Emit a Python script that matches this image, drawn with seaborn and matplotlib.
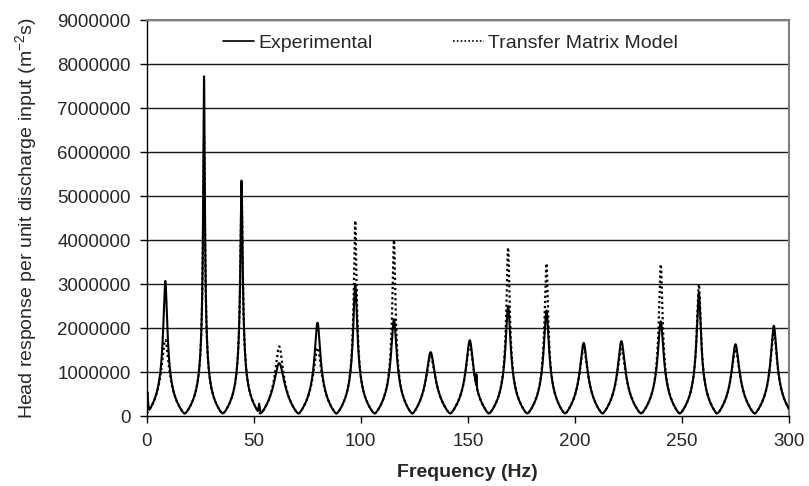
import numpy as np
import pandas as pd
import matplotlib
matplotlib.use("Agg")
import matplotlib.pyplot as plt
import seaborn as sns

# ---- data ----
peak_freq = [8.7, 26.8, 44.3, 61.9, 79.8, 97.4, 115.5, 132.6, 150.9, 168.8,
             186.7, 204.1, 221.7, 240.1, 257.9, 275.0, 292.9]
exp_peak = [3.07e6, 7.72e6, 5.35e6, 1.20e6, 2.12e6, 3.00e6, 2.20e6, 1.45e6,
            1.72e6, 2.50e6, 2.40e6, 1.66e6, 1.70e6, 2.15e6, 2.80e6, 1.63e6, 2.05e6]
model_peak = [1.73e6, 6.35e6, 5.30e6, 1.58e6, 1.55e6, 4.44e6, 4.00e6, 1.35e6,
              1.62e6, 3.83e6, 3.47e6, 1.55e6, 1.52e6, 3.45e6, 3.00e6, 1.52e6, 1.92e6]
exp_spike_freq = [0.3, 52.5, 154.0]
exp_spike_amp = [0.55e6, 0.28e6, 0.95e6]
tail_level = 0.45e6          # response level half-way between resonance and trough
floor_level = 0.06e6         # residual response at the troughs
yticks = [0, 1000000, 2000000, 3000000, 4000000, 5000000, 6000000, 7000000, 8000000, 9000000]
ytick_labels = [str(v) for v in yticks]
xticks = [0, 50, 100, 150, 200, 250, 300]


def resonance_curve(freqs, pf, pa):
    pf = np.asarray(pf, float)
    pa = np.asarray(pa, float)
    mids = (pf[1:] + pf[:-1]) / 2
    low = np.concatenate([[pf[0] - (pf[1] - pf[0]) / 2], mids])
    high = np.concatenate([mids, [pf[-1] + (pf[-1] - pf[-2]) / 2]])
    idx = np.searchsorted(mids, freqs)
    f0 = pf[idx]
    d = freqs - f0
    w = np.where(d < 0, f0 - low[idx], high[idx] - f0)
    ang = 0.5 * np.pi * np.clip(d / w, -0.999, 0.999)
    core = 1.0 / np.sqrt(1.0 / pa[idx] ** 2 + (np.tan(ang) / tail_level) ** 2)
    return np.sqrt(core ** 2 + floor_level ** 2)


freq = np.unique(np.concatenate([np.linspace(0, 300, 12001), peak_freq]))
exp_resp = resonance_curve(freq, peak_freq, exp_peak)
for sf, sa in zip(exp_spike_freq, exp_spike_amp):
    exp_resp = np.maximum(exp_resp, sa / np.sqrt(1 + ((freq - sf) / 0.25) ** 2))
model_resp = resonance_curve(freq, peak_freq, model_peak)

df_exp = pd.DataFrame({"Frequency": freq, "Response": exp_resp})
df_mod = pd.DataFrame({"Frequency": freq, "Response": model_resp})

# ---- plotting ----
sns.set_style("white")
plt.rcParams["font.family"] = ["Liberation Sans", "DejaVu Sans"]
plt.rcParams["mathtext.fontset"] = "custom"
plt.rcParams["mathtext.rm"] = "Liberation Sans"
plt.rcParams["mathtext.it"] = "Liberation Sans:italic"
plt.rcParams["mathtext.default"] = "regular"

fig = plt.figure(figsize=(8.09, 4.86), dpi=100)
ax = fig.add_axes([0.1813, 0.144, 0.7940, 0.8148])

for y in yticks[1:]:
    ax.axhline(y, color="#1a1a1a", lw=1.0, zorder=1)

sns.lineplot(data=df_exp, x="Frequency", y="Response", ax=ax, color="black",
             lw=1.5, label="Experimental", zorder=3, estimator=None, sort=False)
sns.lineplot(data=df_mod, x="Frequency", y="Response", ax=ax, color="black",
             lw=1.6, linestyle=(0, (1, 1.3)), label="Transfer Matrix Model",
             zorder=4, estimator=None, sort=False)

ax.set_xlim(0, 300)
ax.set_ylim(0, 9000000)
ax.set_xticks(xticks)
ax.set_xticklabels([str(v) for v in xticks])
ax.set_yticks(yticks)
ax.set_yticklabels(ytick_labels)
ax.tick_params(axis="both", direction="out", length=5, width=1, color="black",
               labelsize=13.5, left=True, bottom=True)
ax.tick_params(axis="y", pad=6.5)
ax.tick_params(axis="x", pad=7)

for s in ["left", "bottom"]:
    ax.spines[s].set_color("black")
    ax.spines[s].set_linewidth(1.0)
for s in ["top", "right"]:
    ax.spines[s].set_color("#7f7f7f")
    ax.spines[s].set_linewidth(1.5)

ax.set_xlabel("Frequency (Hz)", fontsize=14, fontweight="bold", labelpad=10)
ax.set_ylabel("Head response per unit discharge input (m$^{-2}$s)", fontsize=14, labelpad=13)

leg = ax.legend(loc="center", bbox_to_anchor=(0.473, 0.942), ncol=2, frameon=False,
                fontsize=14, handlelength=1.6, handletextpad=0.2, columnspacing=4.15)
for line in leg.get_lines():
    line.set_linewidth(1.2)

fig.savefig("out.png", dpi=100)
